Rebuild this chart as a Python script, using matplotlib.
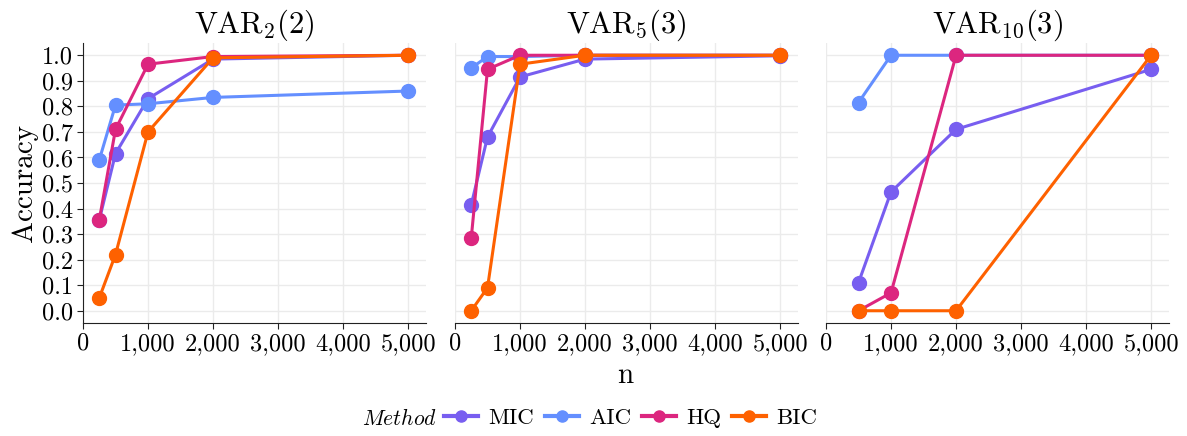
import matplotlib
matplotlib.use("Agg")
import matplotlib.pyplot as plt
from matplotlib.lines import Line2D
from matplotlib.ticker import FuncFormatter, MultipleLocator

plt.rcParams['font.family'] = ['cmr10', 'DejaVu Serif']
plt.rcParams['mathtext.fontset'] = 'cm'
plt.rcParams['axes.unicode_minus'] = False

# methods and colours
methods = ['MIC', 'AIC', 'HQ', 'BIC']
colors = {'MIC': '#785EF0', 'AIC': '#648FFF', 'HQ': '#DC267F', 'BIC': '#FE6100'}

# VAR_2(2)
n_var2 = [250, 500, 1000, 2000, 5000]
acc_var2 = {
    'MIC': [0.355, 0.615, 0.83, 0.985, 1.0],
    'AIC': [0.59, 0.805, 0.81, 0.835, 0.86],
    'HQ':  [0.355, 0.71, 0.965, 0.995, 1.0],
    'BIC': [0.05, 0.22, 0.70, 0.99, 1.0],
}

# VAR_5(3)
n_var5 = [250, 500, 1000, 2000, 5000]
acc_var5 = {
    'MIC': [0.415, 0.68, 0.915, 0.985, 0.998],
    'AIC': [0.95, 0.995, 0.995, 1.0, 1.0],
    'HQ':  [0.285, 0.945, 1.0, 1.0, 1.0],
    'BIC': [0.0, 0.09, 0.965, 1.0, 1.0],
}

# VAR_10(3)
n_var10 = [500, 1000, 2000, 5000]
acc_var10 = {
    'MIC': [0.11, 0.465, 0.71, 0.945],
    'AIC': [0.815, 1.0, 1.0, 1.0],
    'HQ':  [0.0, 0.07, 1.0, 1.0],
    'BIC': [0.0, 0.0, 0.0, 1.0],
}

panels = [
    (r'$\mathrm{VAR}_{2}(2)$', n_var2, acc_var2),
    (r'$\mathrm{VAR}_{5}(3)$', n_var5, acc_var5),
    (r'$\mathrm{VAR}_{10}(3)$', n_var10, acc_var10),
]

fig = plt.figure(figsize=(11.87, 4.36), dpi=100)
lefts = [83, 455, 826]
W, H = 1187, 436

for i, (title, n, acc) in enumerate(panels):
    ax = fig.add_axes([lefts[i] / W, 1 - 323 / H, 343 / W, (323 - 43) / H])
    for m in methods:
        ax.plot(n, acc[m], color=colors[m], lw=2.2, marker='o', ms=10,
                solid_capstyle='butt', zorder=3)
    ax.set_xlim(0, 5275)
    ax.set_ylim(-0.048, 1.048)
    ax.xaxis.set_major_locator(MultipleLocator(1000))
    ax.yaxis.set_major_locator(MultipleLocator(0.1))
    ax.xaxis.set_major_formatter(FuncFormatter(lambda v, p: f'{int(v):,}'))
    ax.yaxis.set_major_formatter(FuncFormatter(lambda v, p: f'{v:.1f}'))
    ax.grid(True, color='#EBEBEB', lw=1.0, zorder=0)
    ax.set_axisbelow(True)
    for s in ['top', 'right']:
        ax.spines[s].set_visible(False)
    ax.spines['bottom'].set_color('#222222')
    ax.tick_params(axis='both', labelsize=17.5, length=4, color='#222222',
                   labelcolor='black', pad=3)
    if i == 0:
        ax.spines['left'].set_color('#222222')
        ax.set_ylabel('Accuracy', fontsize=21, labelpad=3)
    else:
        ax.spines['left'].set_visible(False)
        ax.tick_params(axis='y', left=False, labelleft=False)
    ax.set_title(title, fontsize=22, pad=7)

fig.text(0.527, 1 - 376 / H, 'n', fontsize=21, ha='center', va='center')

handles = [Line2D([0], [0], color=colors[m], lw=3, marker='o', ms=8) for m in methods]
fig.legend(handles, methods, loc='center left', bbox_to_anchor=(444 / W, 1 - 418 / H),
           ncol=4, frameon=False, fontsize=16.5, handlelength=1.5,
           handletextpad=0.45, columnspacing=0.45, borderaxespad=0, borderpad=0)
fig.text(362 / W, 1 - 418 / H, r'$Method$', fontsize=15.5, ha='left', va='center')

fig.savefig('out.png', dpi=100)
